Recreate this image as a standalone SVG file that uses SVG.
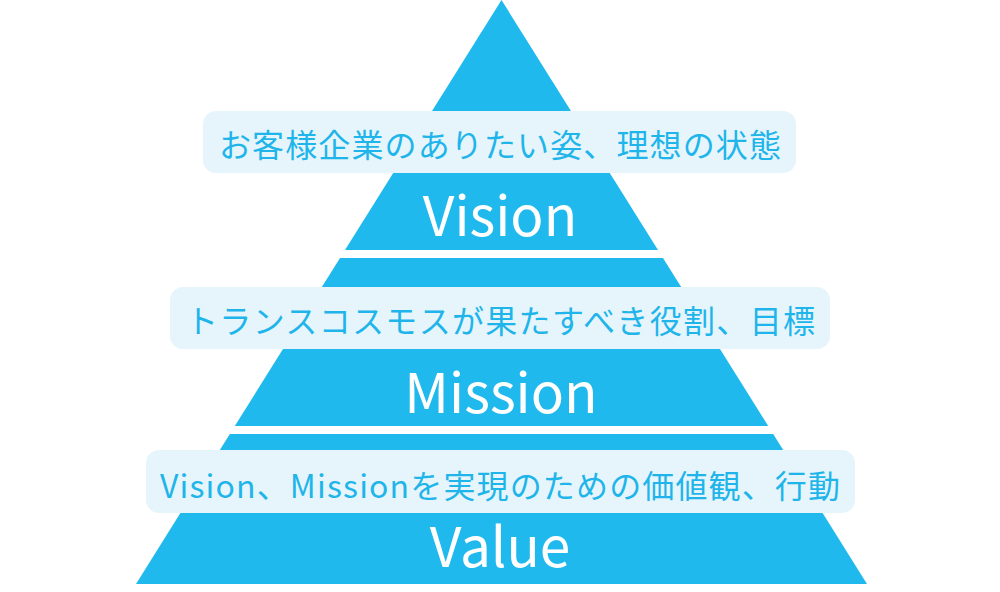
<svg xmlns="http://www.w3.org/2000/svg" width="1000" height="592" viewBox="0 0 1000 592">
  <style>
    .band { fill: #20b9ee; }
    .box { fill: #e6f5fc; }
    .label { font-family: "Noto Sans CJK JP", "Noto Sans", sans-serif; font-size: 32px; font-weight: 400; fill: #1fb5ea; text-anchor: start; dominant-baseline: central; }
    .title { font-family: "Noto Sans CJK JP", "Noto Sans", sans-serif; font-size: 55px; font-weight: 400; fill: #ffffff; text-anchor: middle; }
  </style>
  <rect width="1000" height="592" fill="#ffffff"/>
  <g id="vision">
    <polygon class="band" points="501.5,0 658,250 345,250"/>
    <rect class="box" x="203" y="111" width="593" height="62" rx="13"/>
    <text class="label" x="219" y="143" textLength="562" lengthAdjust="spacing">お客様企業のありたい姿、理想の状態</text>
    <text class="title" x="500" y="236">Vision</text>
  </g>
  <g id="mission">
    <polygon class="band" points="340,258 663,258 768.2,426 234.8,426"/>
    <rect class="box" x="170" y="287" width="660" height="62" rx="13"/>
    <text class="label" x="186" y="319" textLength="629" lengthAdjust="spacing">トランスコスモスが果たすべき役割、目標</text>
    <text class="title" x="501" y="413">Mission</text>
  </g>
  <g id="value">
    <polygon class="band" points="229.8,434 773.2,434 867,584 136,584"/>
    <rect class="box" x="146" y="450" width="709" height="63" rx="13"/>
    <text class="label" x="160" y="484" textLength="680" lengthAdjust="spacing">Vision、Missionを実現のための価値観、行動</text>
    <text class="title" x="500" y="567">Value</text>
  </g>
</svg>
